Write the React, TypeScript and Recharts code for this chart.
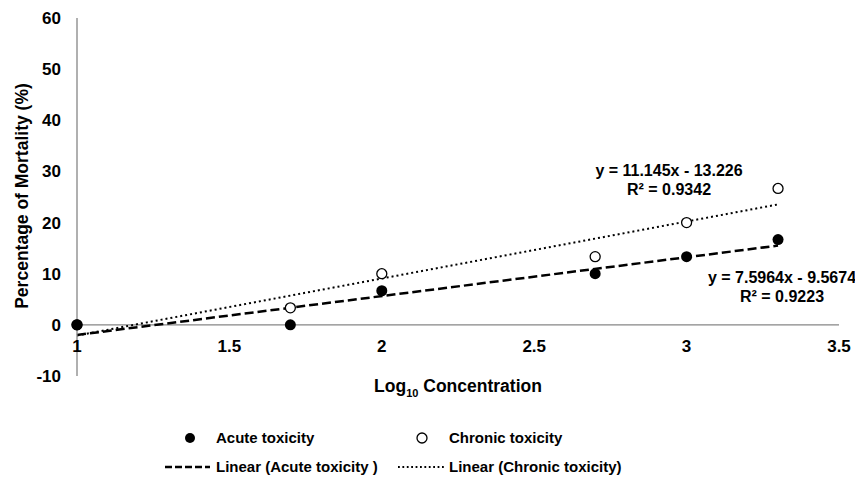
import React from "react";
import {
  ComposedChart,
  Scatter,
  Line,
  XAxis,
  YAxis,
  ReferenceLine,
  Legend,
} from "recharts";

// log10 concentration vs. mortality
const acutePoints = [
  { x: 1, y: 0 },
  { x: 1.7, y: 0 },
  { x: 2, y: 6.67 },
  { x: 2.7, y: 10 },
  { x: 3, y: 13.33 },
  { x: 3.3, y: 16.67 },
];

const chronicPoints = [
  { x: 1, y: 0 },
  { x: 1.7, y: 3.33 },
  { x: 2, y: 10 },
  { x: 2.7, y: 13.33 },
  { x: 3, y: 20 },
  { x: 3.3, y: 26.67 },
];

// trendline end points
const acuteTrend = [
  { x: 1, y: -1.97 },
  { x: 3.3, y: 15.5 },
];

const chronicTrend = [
  { x: 1, y: -2.08 },
  { x: 3.3, y: 23.55 },
];

const xTicks = [1, 1.5, 2, 2.5, 3, 3.5];
const yTicks = [-10, 0, 10, 20, 30, 40, 50, 60];

const acuteEquation = ["y = 7.5964x - 9.5674", "R² = 0.9223"];
const chronicEquation = ["y = 11.145x - 13.226", "R² = 0.9342"];

const font = "'Liberation Sans', Arial, sans-serif";
const axisGray = "#868686";

const XTick = (props: any) => {
  const { x, y, payload } = props;
  return (
    <text
      x={x}
      y={y - 44}
      textAnchor="middle"
      dominantBaseline="hanging"
      fontFamily={font}
      fontWeight="bold"
      fontSize={17}
      fill="#000"
    >
      {payload.value}
    </text>
  );
};

const LegendBlock = () => {
  const txt: React.CSSProperties = {
    position: "absolute",
    fontFamily: font,
    fontWeight: "bold",
    fontSize: 15,
    color: "#000",
    whiteSpace: "nowrap",
    lineHeight: "18px",
  };
  return (
    <div style={{ position: "relative", width: 855, height: 60 }}>
      <svg width={855} height={60} style={{ position: "absolute", left: 0, top: 0 }}>
        <circle cx={190} cy={18} r={5} fill="#000" />
        <circle cx={422} cy={18} r={5} fill="#fff" stroke="#000" strokeWidth={1.3} />
        <line x1={165} y1={47} x2={210} y2={47} stroke="#000" strokeWidth={2.5} strokeDasharray="7 3" />
        <line x1={398} y1={47} x2={444} y2={47} stroke="#000" strokeWidth={1.8} strokeDasharray="1.8 2.6" />
      </svg>
      <div style={{ ...txt, left: 216, top: 9 }}>Acute toxicity</div>
      <div style={{ ...txt, left: 449, top: 9 }}>Chronic toxicity</div>
      <div style={{ ...txt, left: 216, top: 38 }}>Linear (Acute toxicity )</div>
      <div style={{ ...txt, left: 449, top: 38 }}>Linear (Chronic toxicity)</div>
    </div>
  );
};

export default function App() {
  const eqStyle: React.CSSProperties = {
    position: "absolute",
    fontFamily: font,
    fontWeight: "bold",
    fontSize: 16,
    textAlign: "center",
    lineHeight: "19px",
    transform: "translateX(-50%)",
    whiteSpace: "nowrap",
  };

  return (
    <div
      style={{
        position: "absolute",
        left: 0,
        top: 0,
        width: 855,
        height: 481,
        background: "#fff",
      }}
    >
      <ComposedChart
        width={855}
        height={481}
        margin={{ top: 18, right: 16, bottom: 15, left: 0 }}
      >
        <XAxis
          type="number"
          dataKey="x"
          domain={[1, 3.5]}
          ticks={xTicks}
          axisLine={false}
          tickLine={false}
          height={30}
          tick={<XTick />}
          interval={0}
        />
        <YAxis
          type="number"
          dataKey="y"
          domain={[-10, 60]}
          ticks={yTicks}
          width={77}
          axisLine={{ stroke: axisGray, strokeWidth: 1.3 }}
          tickLine={false}
          tickSize={0}
          tickMargin={16}
          interval={0}
          tick={{ fontFamily: font, fontWeight: "bold", fontSize: 17, fill: "#000" }}
        />
        <ReferenceLine y={0} stroke={axisGray} strokeWidth={1.3} />
        <Scatter
          name="Chronic toxicity"
          data={chronicPoints}
          fill="#fff"
          stroke="#000"
          strokeWidth={1.3}
          shape={(p: any) => (
            <circle cx={p.cx} cy={p.cy} r={5} fill="#fff" stroke="#000" strokeWidth={1.3} />
          )}
          isAnimationActive={false}
        />
        <Scatter
          name="Acute toxicity"
          data={acutePoints}
          fill="#000"
          shape={(p: any) => <circle cx={p.cx} cy={p.cy} r={5.5} fill="#000" />}
          isAnimationActive={false}
        />
        <Line
          name="Linear (Acute toxicity )"
          data={acuteTrend}
          dataKey="y"
          stroke="#000"
          strokeWidth={2.5}
          strokeDasharray="9 4"
          dot={false}
          activeDot={false}
          isAnimationActive={false}
        />
        <Line
          name="Linear (Chronic toxicity)"
          data={chronicTrend}
          dataKey="y"
          stroke="#000"
          strokeWidth={2}
          strokeDasharray="2 3"
          dot={false}
          activeDot={false}
          isAnimationActive={false}
        />
        <Legend
          content={() => <LegendBlock />}
          wrapperStyle={{ position: "absolute", left: 0, top: 420, width: 855 }}
        />
      </ComposedChart>

      <div
        style={{
          position: "absolute",
          left: 22,
          top: 196,
          transform: "translate(-50%, -50%) rotate(-90deg)",
          fontFamily: font,
          fontWeight: "bold",
          fontSize: 17.5,
          whiteSpace: "nowrap",
        }}
      >
        Percentage of Mortality (%)
      </div>
      <div
        style={{
          position: "absolute",
          left: 458,
          top: 376,
          transform: "translateX(-50%)",
          fontFamily: font,
          fontWeight: "bold",
          fontSize: 17.5,
          whiteSpace: "nowrap",
        }}
      >
        Log<sub style={{ fontSize: 11 }}>10</sub> Concentration
      </div>

      <div style={{ ...eqStyle, left: 669, top: 161 }}>
        {chronicEquation[0]}
        <br />
        {chronicEquation[1]}
      </div>
      <div style={{ ...eqStyle, left: 782, top: 268 }}>
        {acuteEquation[0]}
        <br />
        {acuteEquation[1]}
      </div>
    </div>
  );
}
